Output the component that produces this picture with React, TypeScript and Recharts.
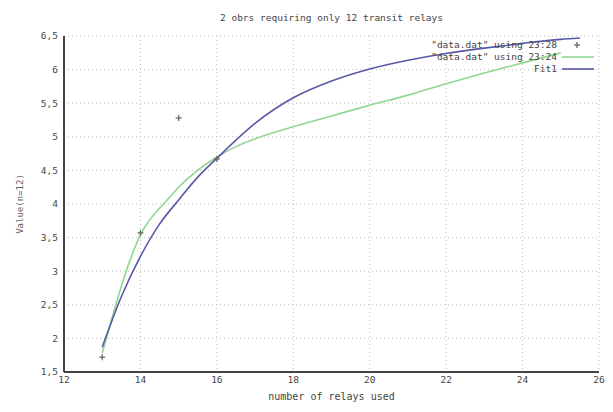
import React from "react";
import {
  ComposedChart,
  Line,
  Scatter,
  XAxis,
  YAxis,
  CartesianGrid,
} from "recharts";

const titleText = "2 obrs requiring only 12 transit relays";
const xLabel = "number of relays used";
const yLabel = "Value(n=12)";
const legendLabels = ['"data.dat" using 23:28', '"data.dat" using 23:24', "Fit1"];

const xTicks = [12, 14, 16, 18, 20, 22, 24, 26];
const yTicks = [1.5, 2, 2.5, 3, 3.5, 4, 4.5, 5, 5.5, 6, 6.5];

// "data.dat" using 23:28 (points)
const pointX = [13, 14, 15, 16];
const pointY = [1.72, 3.57, 5.28, 4.67];

// "data.dat" using 23:24 (green line)
const greenX = [13, 14, 14.7, 15, 16, 16.6, 17, 18, 19, 20, 21, 22, 23, 24, 25];
const greenY = [1.78, 3.54, 4.06, 4.25, 4.7, 4.88, 4.97, 5.15, 5.31, 5.47, 5.62, 5.79, 5.95, 6.1, 6.25];

// Fit1 (blue line)
const fitX = [13, 13.5, 14, 14.5, 15, 15.5, 16, 17, 18, 19, 20, 21, 22, 23, 24, 25, 25.5];
const fitY = [1.87, 2.62, 3.22, 3.7, 4.06, 4.4, 4.68, 5.2, 5.58, 5.83, 6.01, 6.14, 6.24, 6.32, 6.39, 6.45, 6.47];

const points = pointX.map((x, i) => ({ x, y: pointY[i] }));
const green = greenX.map((x, i) => ({ x, y: greenY[i] }));
const fit = fitX.map((x, i) => ({ x, y: fitY[i] }));

const FONT = "'DejaVu Sans Mono', monospace";
const GREEN = "#8fd88f";
const BLUE = "#5858a8";
const PT = "#666";

const Plus = (props: any) => {
  const { cx, cy } = props;
  return (
    <g>
      <line x1={cx - 3} y1={cy} x2={cx + 3} y2={cy} stroke={PT} strokeWidth={1.3} />
      <line x1={cx} y1={cy - 3} x2={cx} y2={cy + 3} stroke={PT} strokeWidth={1.3} />
    </g>
  );
};

const fmt = (v: number) => String(v).replace(".", ",");

export default function App() {
  const tickStyle = { fontFamily: FONT, fontSize: 9.5, fill: "#444" };
  return (
    <div
      style={{
        position: "absolute",
        left: 0,
        top: 0,
        width: 613,
        height: 412,
        background: "#fff",
        fontFamily: FONT,
      }}
    >
      <ComposedChart
        width={613}
        height={412}
        margin={{ top: 36, right: 14, bottom: 0, left: 0 }}
      >
        <CartesianGrid stroke="#bbb" strokeDasharray="1 3" />
        <XAxis
          type="number"
          dataKey="x"
          domain={[12, 26]}
          ticks={xTicks}
          allowDataOverflow
          height={40}
          tickSize={0}
          tickMargin={4}
          tickLine={false}
          axisLine={{ stroke: "#444", strokeWidth: 2 }}
          tick={tickStyle}
        />
        <XAxis
          xAxisId="top"
          orientation="top"
          type="number"
          domain={[12, 26]}
          height={0}
          tick={false}
          tickLine={false}
          axisLine={{ stroke: "#444", strokeWidth: 2 }}
        />
        <YAxis
          type="number"
          dataKey="y"
          domain={[1.5, 6.5]}
          ticks={yTicks}
          allowDataOverflow
          width={64}
          tickSize={0}
          tickMargin={6}
          tickLine={false}
          tickFormatter={fmt}
          axisLine={{ stroke: "#444", strokeWidth: 2 }}
          tick={tickStyle}
        />
        <YAxis
          yAxisId="right"
          orientation="right"
          type="number"
          domain={[1.5, 6.5]}
          width={0}
          tick={false}
          tickLine={false}
          axisLine={{ stroke: "#444", strokeWidth: 2 }}
        />
        <Line
          data={green}
          dataKey="y"
          type="monotone"
          stroke={GREEN}
          strokeWidth={1.6}
          dot={false}
          isAnimationActive={false}
        />
        <Line
          data={fit}
          dataKey="y"
          type="monotone"
          stroke={BLUE}
          strokeWidth={1.6}
          dot={false}
          isAnimationActive={false}
        />
        <Scatter data={points} dataKey="y" shape={<Plus />} isAnimationActive={false} />
      </ComposedChart>

      <div
        style={{
          position: "absolute",
          left: 64,
          width: 535,
          top: 12,
          textAlign: "center",
          fontSize: 9.5,
          color: "#444",
          whiteSpace: "nowrap",
        }}
      >
        {titleText}
      </div>

      <div
        style={{
          position: "absolute",
          left: 64,
          width: 535,
          top: 391,
          textAlign: "center",
          fontSize: 10,
          color: "#444",
          whiteSpace: "nowrap",
        }}
      >
        {xLabel}
      </div>

      <div
        style={{
          position: "absolute",
          left: 20,
          top: 204,
          transform: "translate(-50%, -50%) rotate(-90deg)",
          fontSize: 9,
          color: "#666",
          whiteSpace: "nowrap",
        }}
      >
        {yLabel}
      </div>

      {legendLabels.map((lbl, i) => (
        <div
          key={lbl}
          style={{
            position: "absolute",
            right: 613 - 557,
            top: 39 + i * 12,
            fontSize: 9.5,
            lineHeight: "12px",
            color: "#444",
            whiteSpace: "nowrap",
          }}
        >
          {lbl}
        </div>
      ))}
      <svg
        style={{ position: "absolute", left: 0, top: 0, pointerEvents: "none" }}
        width={613}
        height={412}
      >
        <line x1={574} y1={45} x2={580} y2={45} stroke={PT} strokeWidth={1.3} />
        <line x1={577} y1={42} x2={577} y2={48} stroke={PT} strokeWidth={1.3} />
        <line x1={562} y1={57} x2={594} y2={57} stroke={GREEN} strokeWidth={1.6} />
        <line x1={562} y1={69} x2={594} y2={69} stroke={BLUE} strokeWidth={1.6} />
      </svg>
    </div>
  );
}
